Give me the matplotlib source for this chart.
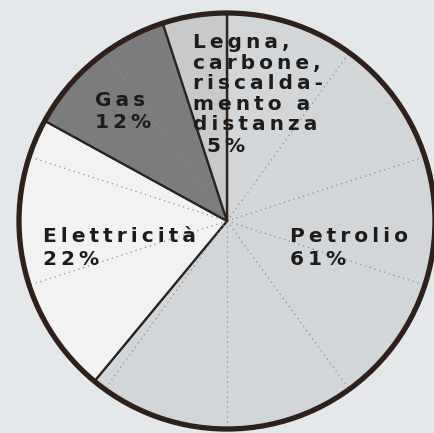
import numpy as np
import matplotlib.pyplot as plt
from matplotlib.patches import Circle

# Quote dei consumi energetici (%)
categorie = ['Petrolio', 'Elettricità', 'Gas', 'Legna, carbone, riscaldamento a distanza']
valori = [61, 22, 12, 5]
colori = ['#d3d6d8', '#f1f2f1', '#7b7c7d', '#c7c9ca']
etichette = ['Petrolio\n61%', 'Elettricità\n22%', 'Gas\n12%',
             'Legna,\ncarbone,\nriscalda-\nmento a\ndistanza']
etichetta_legna_pct = '5%'


def spaziato(testo):
    # spaziatura larga tra le lettere, come nell'originale
    return '\n'.join('\u2009'.join(riga) for riga in testo.split('\n'))


W, H = 435, 433
fig = plt.figure(figsize=(W / 100, H / 100), dpi=100, facecolor='#e4e8ea')
ax = fig.add_axes([0, 0, 1, 1])
ax.set_facecolor('#e4e8ea')

cx, cy, r = 227, H - 221, 208

wedges, _ = ax.pie(valori, colors=colori, startangle=90, counterclock=False,
                   center=(cx, cy), radius=r,
                   wedgeprops=dict(edgecolor='#2b2320', linewidth=1.6))

# linee guida tratteggiate ogni 10%
for k in range(10):
    a = np.deg2rad(90 - 36 * k)
    ax.plot([cx, cx + r * np.cos(a)], [cy, cy + r * np.sin(a)],
            linestyle=(0, (1, 3)), color='#8b9096', lw=0.9, zorder=1.5)

for w in wedges:
    w.set_zorder(1)
ax.plot([cx, cx], [cy, cy + r], color='#2b2320', lw=1.6, zorder=2)
ax.add_patch(Circle((cx, cy), r, fill=False, edgecolor='#2e201a', lw=3.8, zorder=3))

font = dict(fontsize=14.5, fontweight='heavy', color='#1f1b19', family='DejaVu Sans',
            ha='left', va='top', zorder=4)
ax.text(290, H - 227, spaziato(etichette[0]), linespacing=1.25, **font)
ax.text(43, H - 227, spaziato(etichette[1]), linespacing=1.25, **font)
ax.text(95, H - 91, spaziato(etichette[2]), linespacing=1.2, **font)
ax.text(193, H - 33, spaziato(etichette[3]), linespacing=1.1, **font)
ax.text(207, H - 137, spaziato(etichetta_legna_pct), **font)

ax.set_xlim(0, W)
ax.set_ylim(0, H)
ax.set_aspect('auto')
ax.axis('off')

fig.savefig('out.png', dpi=100, facecolor=fig.get_facecolor())
